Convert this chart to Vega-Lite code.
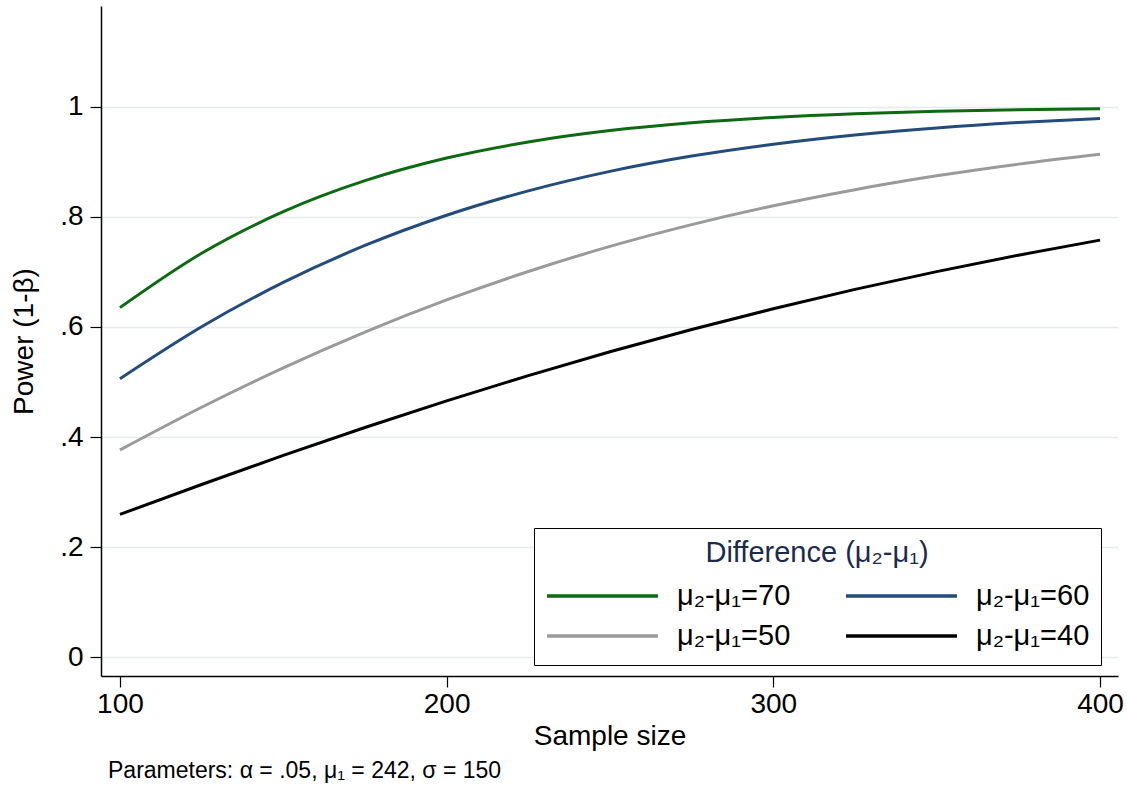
{
  "$schema": "https://vega.github.io/schema/vega-lite/v6.json",
  "autosize": {"type": "none"},
  "padding": {"left": 101, "top": 6, "right": 9, "bottom": 114},
  "width": 1017,
  "height": 670,
  "background": "white",
  "config": {
    "view": {"stroke": null},
    "font": "Liberation Sans",
    "axis": {
      "domainColor": "black",
      "domainWidth": 1.5,
      "tickColor": "black",
      "tickWidth": 1.2,
      "tickSize": 11,
      "labelFont": "Liberation Sans",
      "titleFont": "Liberation Sans",
      "labelColor": "black",
      "titleColor": "black",
      "titleFontWeight": "normal",
      "labelFontSize": 28,
      "titleFontSize": 28
    },
    "legend": {
      "labelFont": "Liberation Sans",
      "titleFont": "Liberation Sans"
    }
  },
  "title": {
    "text": "Parameters: α = .05, μ₁ = 242, σ = 150",
    "orient": "bottom",
    "anchor": "start",
    "frame": "group",
    "fontSize": 23,
    "fontWeight": "normal",
    "font": "Liberation Sans",
    "color": "black",
    "offset": 10,
    "dx": 7
  },
  "data": {
    "values": [
      {"n": 100, "power": 0.6351, "diff": "μ₂-μ₁=70"},
      {"n": 125, "power": 0.7338, "diff": "μ₂-μ₁=70"},
      {"n": 150, "power": 0.8094, "diff": "μ₂-μ₁=70"},
      {"n": 175, "power": 0.8657, "diff": "μ₂-μ₁=70"},
      {"n": 200, "power": 0.9068, "diff": "μ₂-μ₁=70"},
      {"n": 225, "power": 0.9360, "diff": "μ₂-μ₁=70"},
      {"n": 250, "power": 0.9567, "diff": "μ₂-μ₁=70"},
      {"n": 275, "power": 0.9709, "diff": "μ₂-μ₁=70"},
      {"n": 300, "power": 0.9806, "diff": "μ₂-μ₁=70"},
      {"n": 325, "power": 0.9872, "diff": "μ₂-μ₁=70"},
      {"n": 350, "power": 0.9916, "diff": "μ₂-μ₁=70"},
      {"n": 375, "power": 0.9945, "diff": "μ₂-μ₁=70"},
      {"n": 400, "power": 0.9965, "diff": "μ₂-μ₁=70"},
      {"n": 100, "power": 0.5061, "diff": "μ₂-μ₁=60"},
      {"n": 125, "power": 0.6005, "diff": "μ₂-μ₁=60"},
      {"n": 150, "power": 0.6809, "diff": "μ₂-μ₁=60"},
      {"n": 175, "power": 0.7480, "diff": "μ₂-μ₁=60"},
      {"n": 200, "power": 0.8029, "diff": "μ₂-μ₁=60"},
      {"n": 225, "power": 0.8472, "diff": "μ₂-μ₁=60"},
      {"n": 250, "power": 0.8826, "diff": "μ₂-μ₁=60"},
      {"n": 275, "power": 0.9104, "diff": "μ₂-μ₁=60"},
      {"n": 300, "power": 0.9320, "diff": "μ₂-μ₁=60"},
      {"n": 325, "power": 0.9488, "diff": "μ₂-μ₁=60"},
      {"n": 350, "power": 0.9616, "diff": "μ₂-μ₁=60"},
      {"n": 375, "power": 0.9714, "diff": "μ₂-μ₁=60"},
      {"n": 400, "power": 0.9788, "diff": "μ₂-μ₁=60"},
      {"n": 100, "power": 0.3765, "diff": "μ₂-μ₁=50"},
      {"n": 125, "power": 0.4541, "diff": "μ₂-μ₁=50"},
      {"n": 150, "power": 0.5258, "diff": "μ₂-μ₁=50"},
      {"n": 175, "power": 0.5908, "diff": "μ₂-μ₁=50"},
      {"n": 200, "power": 0.6491, "diff": "μ₂-μ₁=50"},
      {"n": 225, "power": 0.7008, "diff": "μ₂-μ₁=50"},
      {"n": 250, "power": 0.7463, "diff": "μ₂-μ₁=50"},
      {"n": 275, "power": 0.7859, "diff": "μ₂-μ₁=50"},
      {"n": 300, "power": 0.8201, "diff": "μ₂-μ₁=50"},
      {"n": 325, "power": 0.8494, "diff": "μ₂-μ₁=50"},
      {"n": 350, "power": 0.8745, "diff": "μ₂-μ₁=50"},
      {"n": 375, "power": 0.8958, "diff": "μ₂-μ₁=50"},
      {"n": 400, "power": 0.9137, "diff": "μ₂-μ₁=50"},
      {"n": 100, "power": 0.2595, "diff": "μ₂-μ₁=40"},
      {"n": 125, "power": 0.3138, "diff": "μ₂-μ₁=40"},
      {"n": 150, "power": 0.3666, "diff": "μ₂-μ₁=40"},
      {"n": 175, "power": 0.4173, "diff": "μ₂-μ₁=40"},
      {"n": 200, "power": 0.4657, "diff": "μ₂-μ₁=40"},
      {"n": 225, "power": 0.5116, "diff": "μ₂-μ₁=40"},
      {"n": 250, "power": 0.5549, "diff": "μ₂-μ₁=40"},
      {"n": 275, "power": 0.5954, "diff": "μ₂-μ₁=40"},
      {"n": 300, "power": 0.6331, "diff": "μ₂-μ₁=40"},
      {"n": 325, "power": 0.6682, "diff": "μ₂-μ₁=40"},
      {"n": 350, "power": 0.7005, "diff": "μ₂-μ₁=40"},
      {"n": 375, "power": 0.7304, "diff": "μ₂-μ₁=40"},
      {"n": 400, "power": 0.7577, "diff": "μ₂-μ₁=40"}
    ]
  },
  "mark": {"type": "line", "strokeWidth": 3, "interpolate": "monotone"},
  "encoding": {
    "x": {
      "field": "n",
      "type": "quantitative",
      "scale": {"domain": [94.2, 405.5], "nice": false, "zero": false},
      "axis": {
        "values": [100, 200, 300, 400],
        "grid": false,
        "title": "Sample size",
        "labelPadding": 3,
        "titleBaseline": "middle",
        "titleY": 60
      }
    },
    "y": {
      "field": "power",
      "type": "quantitative",
      "scale": {"domain": [-0.034, 1.183], "nice": false, "zero": false},
      "axis": {
        "values": [0, 0.2, 0.4, 0.6, 0.8, 1],
        "labelExpr": "replace(toString(datum.value), '0.', '.')",
        "grid": true,
        "gridColor": "#e4ecec",
        "gridWidth": 1.5,
        "labelPadding": 7,
        "title": "Power (1-β)",
        "titleBaseline": "middle",
        "titleX": -77,
        "titleY": 335
      }
    },
    "color": {
      "field": "diff",
      "type": "nominal",
      "sort": null,
      "scale": {
        "domain": ["μ₂-μ₁=70", "μ₂-μ₁=60", "μ₂-μ₁=50", "μ₂-μ₁=40"],
        "range": ["#0e6a12", "#234c7a", "#9a9a9a", "#000000"]
      },
      "legend": {
        "title": "Difference (μ₂-μ₁)",
        "orient": "none",
        "direction": "horizontal",
        "legendX": 433,
        "legendY": 522,
        "columns": 2,
        "strokeColor": "black",
        "fillColor": "white",
        "padding": 11,
        "titleAnchor": "middle",
        "titleFontSize": 29,
        "titleFontWeight": "normal",
        "titleColor": "#1c2b4d",
        "titlePadding": 10,
        "titleLimit": 1000,
        "labelFontSize": 29,
        "labelColor": "black",
        "labelOffset": 17,
        "labelLimit": 1000,
        "columnPadding": 53,
        "rowPadding": 4,
        "clipHeight": 36,
        "symbolType": "stroke",
        "symbolSize": 12321,
        "symbolStrokeWidth": 3.5
      }
    }
  }
}
